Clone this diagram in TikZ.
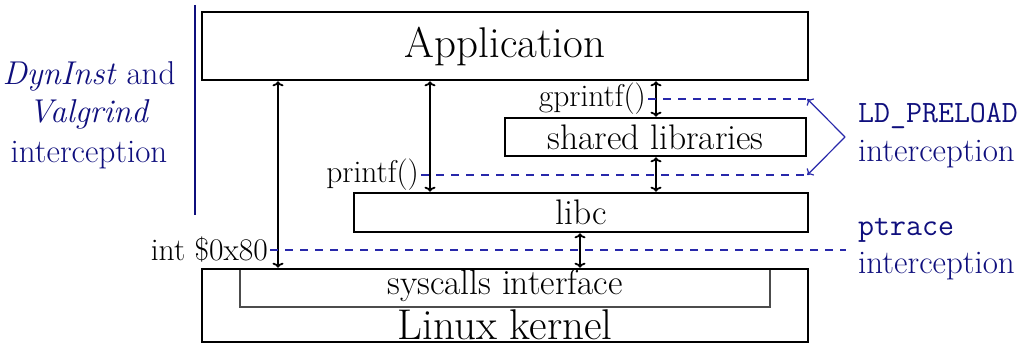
\documentclass[tikz,border=0pt]{standalone}
\usepackage{fontspec}
\usetikzlibrary{arrows.meta}
\definecolor{navy}{RGB}{15,15,125}
\definecolor{dashblue}{RGB}{40,40,170}
\begin{document}
\begin{tikzpicture}[x=1pt,y=-1pt,
  box/.style={draw=black, line width=2.6pt, rectangle, inner sep=0pt},
  bigtxt/.style={inner sep=0pt, font=\fontsize{43}{50}\selectfont},
  midtxt/.style={inner sep=0pt, font=\fontsize{35.5}{42}\selectfont},
  lbl/.style={inner sep=0pt, font=\fontsize{31.5}{38}\selectfont},
  bluetxt/.style={inner sep=0pt, text=navy, font=\fontsize{33}{40}\selectfont},
  monotxt/.style={inner sep=0pt, text=navy, font=\ttfamily\fontsize{31}{37}\selectfont},
  conn/.style={line width=1.8pt, {Computer Modern Rightarrow[width=11pt,length=5pt]}-{Computer Modern Rightarrow[width=11pt,length=5pt]}},
  guide/.style={draw=dashblue, line width=1.3pt, dash pattern=on 8pt off 7pt},
  ldarrow/.style={draw=dashblue, line width=1.2pt, -{Computer Modern Rightarrow[width=10pt,length=5pt]}}
]
\useasboundingbox (0,0) rectangle (1025,347);

% boxes
\node[box, minimum width=606, minimum height=68] (app) at (505,46) {};
\node[bigtxt] (apptxt) at (505,46) {Application};
\node[box, minimum width=301, minimum height=38] (shl) at (655.5,137) {};
\node[midtxt] (shltxt) at (655.5,137) {shared libraries};
\node[box, minimum width=454, minimum height=39] (libc) at (581,212.5) {};
\node[midtxt] (libctxt) at (581,212.5) {libc};
\node[draw=black!70, line width=1.2pt, rectangle, inner sep=0pt, minimum width=530, minimum height=38] (sys) at (505,288) {};
\node[midtxt] (systxt) at (505,286) {syscalls interface};
\node[box, minimum width=606, minimum height=73] (kern) at (505,305.5) {};
\node[bigtxt] (kerntxt) at (505,325) {Linux kernel};

% x positions of connectors
\coordinate (xa) at (278,0);
\coordinate (xb) at (430,0);
\coordinate (xc) at (656,0);
\coordinate (xd) at (580,0);

\draw[conn] (app.south -| xa) -- (kern.north -| xa);
\draw[conn] (app.south -| xb) -- (libc.north -| xb);
\draw[conn] (app.south -| xc) -- (shl.north -| xc);
\draw[conn] (shl.south -| xc) -- (libc.north -| xc);
\draw[conn] (libc.south -| xd) -- (kern.north -| xd);

% call labels and interception lines
\node[lbl, anchor=east] (gp) at (646,99) {gprintf()};
\node[lbl, anchor=east] (pf) at (419,175) {printf()};
\node[lbl, anchor=east] (int) at (268,250) {int \$0x80};
\coordinate (intend) at (846,250);
\coordinate (apex) at (845,137);
\draw[guide] (gp.east) ++(2,0) -- (shl.east |- gp.east);
\draw[guide] (pf.east) ++(2,0) -- (shl.east |- pf.east);
\draw[guide] (int.east) ++(2,0) -- (intend);
\draw[ldarrow] (apex) -- (shl.east |- gp.east);
\draw[ldarrow] (apex) -- (shl.east |- pf.east);

% left label
\coordinate (vtop) at (195,5);
\coordinate (vbot) at (195,215);
\draw[draw=navy, line width=1.3pt] (vtop) -- (vbot);
\node[bluetxt, anchor=base] (l1) at (89,85) {\textit{DynInst} and};
\node[bluetxt, anchor=base] (l2) at (89,123) {\textit{Valgrind}};
\node[bluetxt, anchor=base] (l3) at (89,163) {interception};

% right labels
\node[monotxt, anchor=base west] (r1) at (858,123) {LD\_PRELOAD};
\node[bluetxt, anchor=base west] (r2) at (858,162) {interception};
\node[monotxt, anchor=base west] (r3) at (858,236) {ptrace};
\node[bluetxt, anchor=base west] (r4) at (858,273) {interception};
\end{tikzpicture}
\end{document}
